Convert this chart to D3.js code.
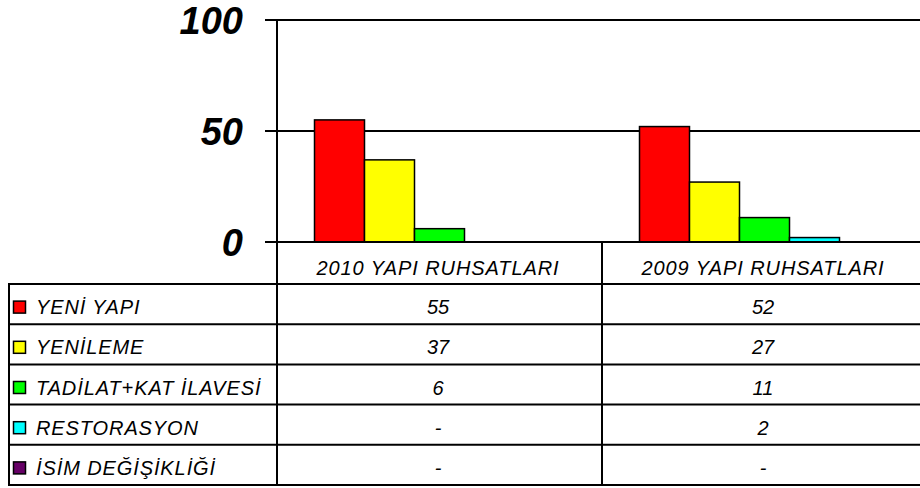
<!DOCTYPE html>
<html><head><meta charset="utf-8">
<script src="https://cdn.jsdelivr.net/npm/d3@7"></script>
<style>body{margin:0;background:#fff}svg{display:block}text{font-family:"Liberation Sans",Arial,sans-serif}</style>
</head><body><svg id="c" width="920" height="488"></svg>
<script>
const categories = ["2010 YAPI RUHSATLARI", "2009 YAPI RUHSATLARI"];
const seriesNames = ["YENİ YAPI", "YENİLEME", "TADİLAT+KAT İLAVESİ", "RESTORASYON", "İSİM DEĞİŞİKLİĞİ"];
const seriesColors = ["#ff0000", "#ffff00", "#00ff00", "#00ffff", "#660066"];
const yeniYapi = [55, 52];
const yenileme = [37, 27];
const tadilat = [6, 11];
const restorasyon = [null, 2];
const isimDegisikligi = [null, null];
const yTicks = [0, 50, 100];
const seriesValues = [yeniYapi, yenileme, tadilat, restorasyon, isimDegisikligi];

const svg = d3.select("#c");
const plotLeft = 277, plotRight = 927, y0 = 242, y100 = 20;
const tableLeft = 8, headerBottom = 284, tableBottom = 485;

const x = d3.scaleBand().domain(categories).range([plotLeft, plotRight]).paddingInner(0).paddingOuter(0);
const xs = d3.scaleBand().domain(d3.range(seriesNames.length)).range([0, x.bandwidth()]).paddingOuter(0.75).paddingInner(0);
const y = d3.scaleLinear().domain([0, 100]).range([y0, y100]);

// gridlines & ticks
const g = svg.append("g");
g.selectAll("line.grid").data(yTicks).join("line")
  .attr("x1", 265).attr("x2", 920).attr("y1", d => y(d)).attr("y2", d => y(d))
  .attr("stroke", "#000").attr("stroke-width", 2);
g.selectAll("text.tick").data(yTicks).join("text")
  .attr("x", 243).attr("y", d => y(d) + 14).attr("text-anchor", "end")
  .attr("font-size", 38).attr("font-weight", "bold").attr("font-style", "italic")
  .text(d => d);
g.append("line").attr("x1", plotLeft).attr("x2", plotLeft).attr("y1", y100).attr("y2", 486)
  .attr("stroke", "#000").attr("stroke-width", 2);

// bars
categories.forEach((cat, ci) => {
  seriesValues.forEach((vals, si) => {
    const v = vals[ci];
    if (v == null) return;
    svg.append("rect")
      .attr("x", x(cat) + xs(si)).attr("width", xs.bandwidth())
      .attr("y", y(v)).attr("height", y0 - y(v))
      .attr("fill", seriesColors[si]).attr("stroke", "#000").attr("stroke-width", 1.5);
  });
});
svg.append("line").attr("x1", 265).attr("x2", 920).attr("y1", y0).attr("y2", y0).attr("stroke", "#000").attr("stroke-width", 2);

// table
const t = svg.append("g");
t.selectAll("text.cat").data(categories).join("text")
  .attr("x", d => x(d) + 161).attr("y", 275).attr("text-anchor", "middle")
  .attr("font-size", 20).attr("font-style", "italic").attr("letter-spacing", 0.9).text(d => d);
categories.forEach((cat, i) => {
  if (i > 0) t.append("line").attr("x1", x(cat)).attr("x2", x(cat)).attr("y1", y0).attr("y2", 486)
    .attr("stroke", "#000").attr("stroke-width", 2);
});
const rh = (tableBottom - headerBottom) / seriesNames.length;
const rowLines = d3.range(seriesNames.length + 1).map(i => headerBottom + i * rh);
t.selectAll("line.row").data(rowLines).join("line")
  .attr("x1", tableLeft).attr("x2", 920).attr("y1", d => d).attr("y2", d => d)
  .attr("stroke", "#000").attr("stroke-width", 2);
t.append("line").attr("x1", tableLeft + 1).attr("x2", tableLeft + 1).attr("y1", headerBottom).attr("y2", 486)
  .attr("stroke", "#000").attr("stroke-width", 2);
seriesNames.forEach((name, si) => {
  const cy = headerBottom + si * rh + rh / 2;
  t.append("rect").attr("x", 13.5).attr("y", cy - 3).attr("width", 12).attr("height", 12)
    .attr("fill", seriesColors[si]).attr("stroke", "#000").attr("stroke-width", 1.5);
  t.append("text").attr("x", 36).attr("y", cy + 10).attr("font-size", 20).attr("font-style", "italic")
    .attr("letter-spacing", 0.9).text(name);
  categories.forEach((cat, ci) => {
    const v = seriesValues[si][ci];
    t.append("text").attr("x", x(cat) + 161).attr("y", cy + 10).attr("text-anchor", "middle")
      .attr("font-size", 20).attr("font-style", "italic").text(v == null ? "-" : v);
  });
});
</script></body></html>
